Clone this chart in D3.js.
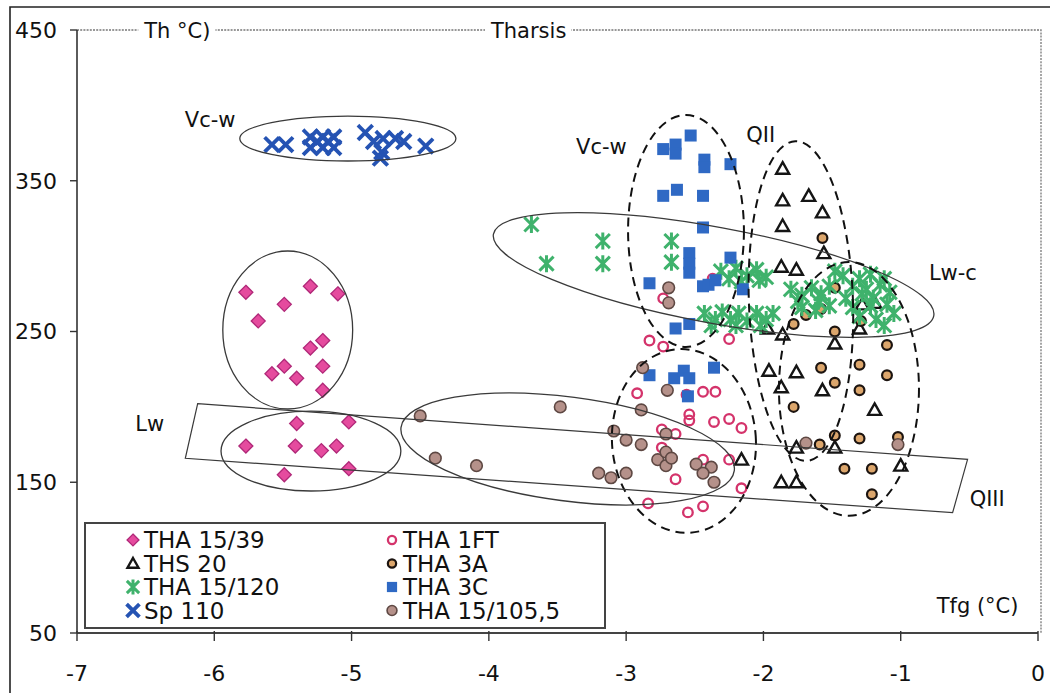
<!DOCTYPE html>
<html><head><meta charset="utf-8">
<script src="https://cdn.jsdelivr.net/npm/d3@7"></script>
<style>
body{margin:0;background:#fff}
svg text{font-family:"DejaVu Sans",Verdana,sans-serif;fill:#111}
</style>
</head><body>
<svg id="chart" width="1050" height="693"></svg>
<script>
// Axis ticks
const xTicks = [-7, -6, -5, -4, -3, -2, -1, 0];
const yTicks = [50, 150, 250, 350, 450];

// Fluid inclusion data: [Tfg (°C), Th (°C)]
const tha1539 = [[-5.77,276],[-5.49,268],[-5.30,280],[-5.10,275],[-5.68,257],[-5.30,239],[-5.21,244],
  [-5.58,222],[-5.49,227],[-5.40,219],[-5.21,227],[-5.21,211],[-5.40,189],[-5.02,190],[-5.77,174],
  [-5.41,174],[-5.22,171],[-5.11,174],[-5.49,155],[-5.02,159]];
const ths20 = [[-1.86,358],[-1.86,337],[-1.67,340],[-1.57,329],[-1.86,320],[-1.56,302],[-1.87,293],
  [-1.76,291],[-1.28,268],[-1.19,269],[-1.30,252],[-1.97,252],[-1.86,248],[-1.96,224],[-1.76,223],
  [-1.87,213],[-1.57,211],[-1.48,242],[-1.19,198],[-1.76,173],[-1.48,173],[-1.00,161],[-1.87,150],
  [-1.76,150],[-2.16,165]];
const tha15120 = [[-3.69,321],[-3.58,295],[-3.17,310],[-3.17,295],[-2.67,310],[-2.67,296],
  [-2.31,290],[-2.25,285],[-2.20,292],[-2.12,287],[-2.05,291],[-1.98,286],[-2.16,283],[-2.03,284],
  [-2.43,262],[-2.35,258],[-2.30,263],[-2.24,258],[-2.18,262],[-2.12,257],[-2.05,262],[-1.98,258],
  [-1.93,262],[-2.38,254],[-2.20,254],[-2.02,254],
  [-1.80,278],[-1.72,274],[-1.65,279],[-1.58,275],[-1.52,280],[-1.75,270],[-1.60,270],
  [-1.42,287],[-1.30,285],[-1.22,288],[-1.12,285],[-1.35,280],[-1.25,278],[-1.15,281],[-1.40,272],
  [-1.20,272],[-1.28,275],[-1.08,276],
  [-1.35,266],[-1.22,267],[-1.10,268],[-1.30,260],[-1.18,258],[-1.05,262],[-1.12,254],
  [-1.72,266],[-1.62,264],[-1.52,267],[-1.48,290]];
const sp110 = [[-5.58,374],[-5.48,374],[-5.30,379],[-5.30,372],[-5.21,379],[-5.21,372],[-5.13,379],
  [-5.13,372],[-5.25,376],[-5.17,376],[-4.90,382],[-4.84,376],[-4.77,378],[-4.68,378],[-4.62,376],
  [-4.78,369],[-4.79,365],[-4.46,373]];
const tha1ft = [[-2.73,272],[-2.37,285],[-2.83,244],[-2.73,240],[-2.25,245],[-2.92,209],[-2.56,208],
  [-2.44,210],[-2.35,210],[-2.54,195],[-2.54,191],[-2.36,190],[-2.25,192],[-2.16,186],[-2.74,185],
  [-2.64,182],[-2.74,173],[-2.64,152],[-2.44,165],[-2.25,165],[-2.16,146],[-2.84,136],[-2.55,130],
  [-2.44,134]];
const tha3a = [[-1.57,312],[-1.48,279],[-1.58,265],[-1.69,261],[-1.78,255],[-1.48,250],[-1.29,257],
  [-1.10,241],[-1.30,228],[-1.10,221],[-1.58,226],[-1.48,216],[-1.30,211],[-1.78,200],[-1.48,181],
  [-1.30,179],[-1.02,180],[-1.59,175],[-1.41,159],[-1.21,159],[-1.21,142]];
const tha3c = [[-2.73,371],[-2.64,374],[-2.64,368],[-2.53,380],[-2.43,364],[-2.43,359],[-2.24,361],
  [-2.73,340],[-2.63,344],[-2.44,340],[-2.44,319],[-2.54,302],[-2.54,295],[-2.54,289],[-2.24,299],
  [-2.83,282],[-2.44,280],[-2.40,281],[-2.35,284],[-2.15,278],[-2.64,252],[-2.54,255],[-2.83,221],
  [-2.65,219],[-2.58,224],[-2.54,219],[-2.55,207],[-2.36,226]];
const tha15105 = [[-4.50,194],[-3.48,200],[-2.89,198],[-4.39,166],[-4.09,161],[-3.09,184],[-3.00,178],
  [-2.89,175],[-3.20,156],[-3.11,153],[-3.00,156],[-2.70,211],[-2.71,182],[-2.77,165],[-2.71,170],
  [-2.71,161],[-2.67,166],[-2.49,162],[-2.38,160],[-2.36,150],[-2.44,156],[-2.69,279],[-2.69,269],
  [-1.02,175],[-1.69,176],[-2.88,226]];

// Grouping outlines (data units; angle in degrees)
const solidRegions = [
  {cx:-5.027, cy:378.0, rx:0.787, ry:14.9, angle:0},
  {cx:-5.465, cy:251.0, rx:0.473, ry:52.4, angle:0},
  {cx:-5.296, cy:170.7, rx:0.655, ry:26.5, angle:0},
  {cx:-3.426, cy:172.1, rx:1.224, ry:34.5, angle:7.4},
  {cx:-2.363, cy:287.5, rx:1.631, ry:31.8, angle:10.5}
];
const dashedRegions = [
  {cx:-2.564, cy:316.7, rx:0.422, ry:76.9, angle:0},
  {cx:-1.727, cy:270.2, rx:0.379, ry:106.1, angle:-2},
  {cx:-1.377, cy:211.9, rx:0.510, ry:84.2, angle:0},
  {cx:-2.579, cy:177.4, rx:0.524, ry:61.0, angle:-4}
];
const lwBand = [[-6.121,202.1],[-0.513,165.2],[-0.622,129.8],[-6.211,165.9]];

const regionLabels = [
  {text:"Vc-w", x:-6.03, y:391},
  {text:"Vc-w", x:-3.18, y:373},
  {text:"QII", x:-2.02, y:381},
  {text:"Lw-c", x:-0.62, y:289},
  {text:"Lw", x:-6.47, y:189},
  {text:"QIII", x:-0.37, y:139}
];

const series = [
  {name:"THA 15/39", data:tha1539, type:"diamond"},
  {name:"THA 1FT", data:tha1ft, type:"ring"},
  {name:"THS 20", data:ths20, type:"triangle"},
  {name:"THA 3A", data:tha3a, type:"tan"},
  {name:"THA 15/120", data:tha15120, type:"star"},
  {name:"THA 3C", data:tha3c, type:"square"},
  {name:"Sp 110", data:sp110, type:"cross"},
  {name:"THA 15/105,5", data:tha15105, type:"mauve"}
];

const svg = d3.select("#chart");
const x = d3.scaleLinear().domain([-7, 0]).range([77, 1038]);
const y = d3.scaleLinear().domain([50, 450]).range([633, 30]);

// outer frame
svg.append("path").attr("d","M10,693V7H1050").attr("fill","none").attr("stroke","#222").attr("stroke-width",1.6);

// top and right plot borders (dotted)
svg.append("path")
  .attr("d",`M${x(-7)},${y(450)}H${x(0)+3}V${y(50)}`)
  .attr("fill","none").attr("stroke","#777").attr("stroke-width",1.3).attr("stroke-dasharray","2,1.2");

function drawMarker(g, type, px, py, k = 1){
  const s = v => v * k;
  switch(type){
    case "diamond":
      g.append("path").attr("d",`M${px},${py-s(7)}L${px+s(7)},${py}L${px},${py+s(7)}L${px-s(7)},${py}Z`)
        .attr("fill","#e54b9e").attr("stroke","#b02878").attr("stroke-width",1.3); break;
    case "ring":
      g.append("circle").attr("cx",px).attr("cy",py).attr("r",s(4.8))
        .attr("fill","none").attr("stroke","#d4336b").attr("stroke-width",2.3); break;
    case "triangle":
      g.append("path").attr("d",`M${px},${py-s(6.5)}L${px+s(6.5)},${py+s(5)}L${px-s(6.5)},${py+s(5)}Z`)
        .attr("fill","none").attr("stroke","#151515").attr("stroke-width",2.4).attr("stroke-linejoin","miter"); break;
    case "tan":
      g.append("circle").attr("cx",px).attr("cy",py).attr("r",s(4.9))
        .attr("fill","#dca66c").attr("stroke","#1c1410").attr("stroke-width",2.2); break;
    case "star":
      g.append("path").attr("d",`M${px-s(6)},${py-s(6)}L${px+s(6)},${py+s(6)}M${px+s(6)},${py-s(6)}L${px-s(6)},${py+s(6)}M${px},${py-s(7)}V${py+s(7)}`)
        .attr("stroke","#3fb26c").attr("stroke-width",3).attr("stroke-linecap","square"); break;
    case "square":
      g.append("rect").attr("x",px-s(6)).attr("y",py-s(6)).attr("width",s(12)).attr("height",s(12))
        .attr("fill","#2f69c4"); break;
    case "cross":
      g.append("path").attr("d",`M${px-s(6)},${py-s(6)}L${px+s(6)},${py+s(6)}M${px+s(6)},${py-s(6)}L${px-s(6)},${py+s(6)}`)
        .attr("stroke","#2553b3").attr("stroke-width",3.8).attr("stroke-linecap","square"); break;
    case "mauve":
      g.append("circle").attr("cx",px).attr("cy",py).attr("r",s(5.8))
        .attr("fill","#b5918a").attr("stroke","#5e4843").attr("stroke-width",1.6); break;
  }
}

// data points
const pts = svg.append("g");
series.forEach(s => {
  const g = pts.append("g");
  s.data.forEach(d => drawMarker(g, s.type, x(d[0]), y(d[1])));
});

// outlines
const reg = svg.append("g").attr("fill","none");
function ellipse(e, dashed){
  const cx = x(e.cx), cy = y(e.cy);
  const rx = x(e.cx + e.rx) - cx, ry = cy - y(e.cy + e.ry);
  reg.append("ellipse").attr("cx",cx).attr("cy",cy).attr("rx",rx).attr("ry",ry)
    .attr("transform",`rotate(${e.angle},${cx},${cy})`)
    .attr("stroke", dashed ? "#111" : "#3a3a3a")
    .attr("stroke-width", dashed ? 2 : 1.3)
    .attr("stroke-dasharray", dashed ? "9,6" : null);
}
solidRegions.forEach(e => ellipse(e, false));
dashedRegions.forEach(e => ellipse(e, true));
reg.append("path").attr("d", d3.line().x(d=>x(d[0])).y(d=>y(d[1]))(lwBand) + "Z")
  .attr("stroke","#3a3a3a").attr("stroke-width",1.2);

// axes
const axisG = svg.append("g");
axisG.append("line").attr("x1",x(-7)).attr("x2",x(-7)).attr("y1",y(450)).attr("y2",y(50))
  .attr("stroke","#333").attr("stroke-width",1.6);
axisG.append("line").attr("x1",x(-7)).attr("x2",x(0)).attr("y1",y(50)).attr("y2",y(50))
  .attr("stroke","#444").attr("stroke-width",2);
yTicks.forEach(t => {
  axisG.append("line").attr("x1",x(-7)-7).attr("x2",x(-7)).attr("y1",y(t)).attr("y2",y(t))
    .attr("stroke","#333").attr("stroke-width",1.4);
  axisG.append("text").attr("x",x(-7)-20).attr("y",y(t)).attr("dy","0.36em")
    .attr("text-anchor","end").attr("font-size",22).text(t);
});
xTicks.forEach(t => {
  axisG.append("line").attr("x1",x(t)).attr("x2",x(t)).attr("y1",y(50)-2).attr("y2",y(50)+8)
    .attr("stroke","#333").attr("stroke-width",1.4);
  axisG.append("text").attr("x",x(t)).attr("y",y(50)+40).attr("dy","0.36em")
    .attr("text-anchor","middle").attr("font-size",22).text(t);
});

// header labels sitting on the dotted border
const headG = svg.append("g");
function borderLabel(txt, xv, anchor){
  const bg = headG.append("rect").attr("fill","#fff");
  const t = headG.append("text").attr("x",x(xv)).attr("y",y(450)).attr("dy","0.36em")
    .attr("text-anchor",anchor).attr("font-size",21).text(txt);
  const b = t.node().getBBox();
  bg.attr("x",b.x-5).attr("y",b.y).attr("width",b.width+10).attr("height",b.height);
}
borderLabel("Th °C)", -6.51, "start");
borderLabel("Tharsis", -3.71, "middle");

// region labels
svg.append("g").selectAll("text").data(regionLabels).join("text")
  .attr("x",d=>x(d.x)).attr("y",d=>y(d.y)).attr("dy","0.36em").attr("text-anchor","middle")
  .attr("font-size",21).text(d=>d.text);

svg.append("text").attr("x",x(-0.44)).attr("y",y(68)).attr("dy","0.36em").attr("text-anchor","middle")
  .attr("font-size",21).text("Tfg (°C)");

// legend
const lg = svg.append("g");
lg.append("rect").attr("x",85).attr("y",523).attr("width",520).attr("height",105)
  .attr("fill","#fff").attr("stroke","#444").attr("stroke-width",2);
series.forEach((s, i) => {
  const col = i % 2, row = Math.floor(i / 2);
  const mx = col ? 392 : 133, my = 540 + row * 23.5;
  drawMarker(lg, s.type, mx, my, 0.85);
  lg.append("text").attr("x", mx + 11).attr("y", my).attr("dy","0.36em")
    .attr("font-size",23).text(s.name);
});
</script>
</body></html>
